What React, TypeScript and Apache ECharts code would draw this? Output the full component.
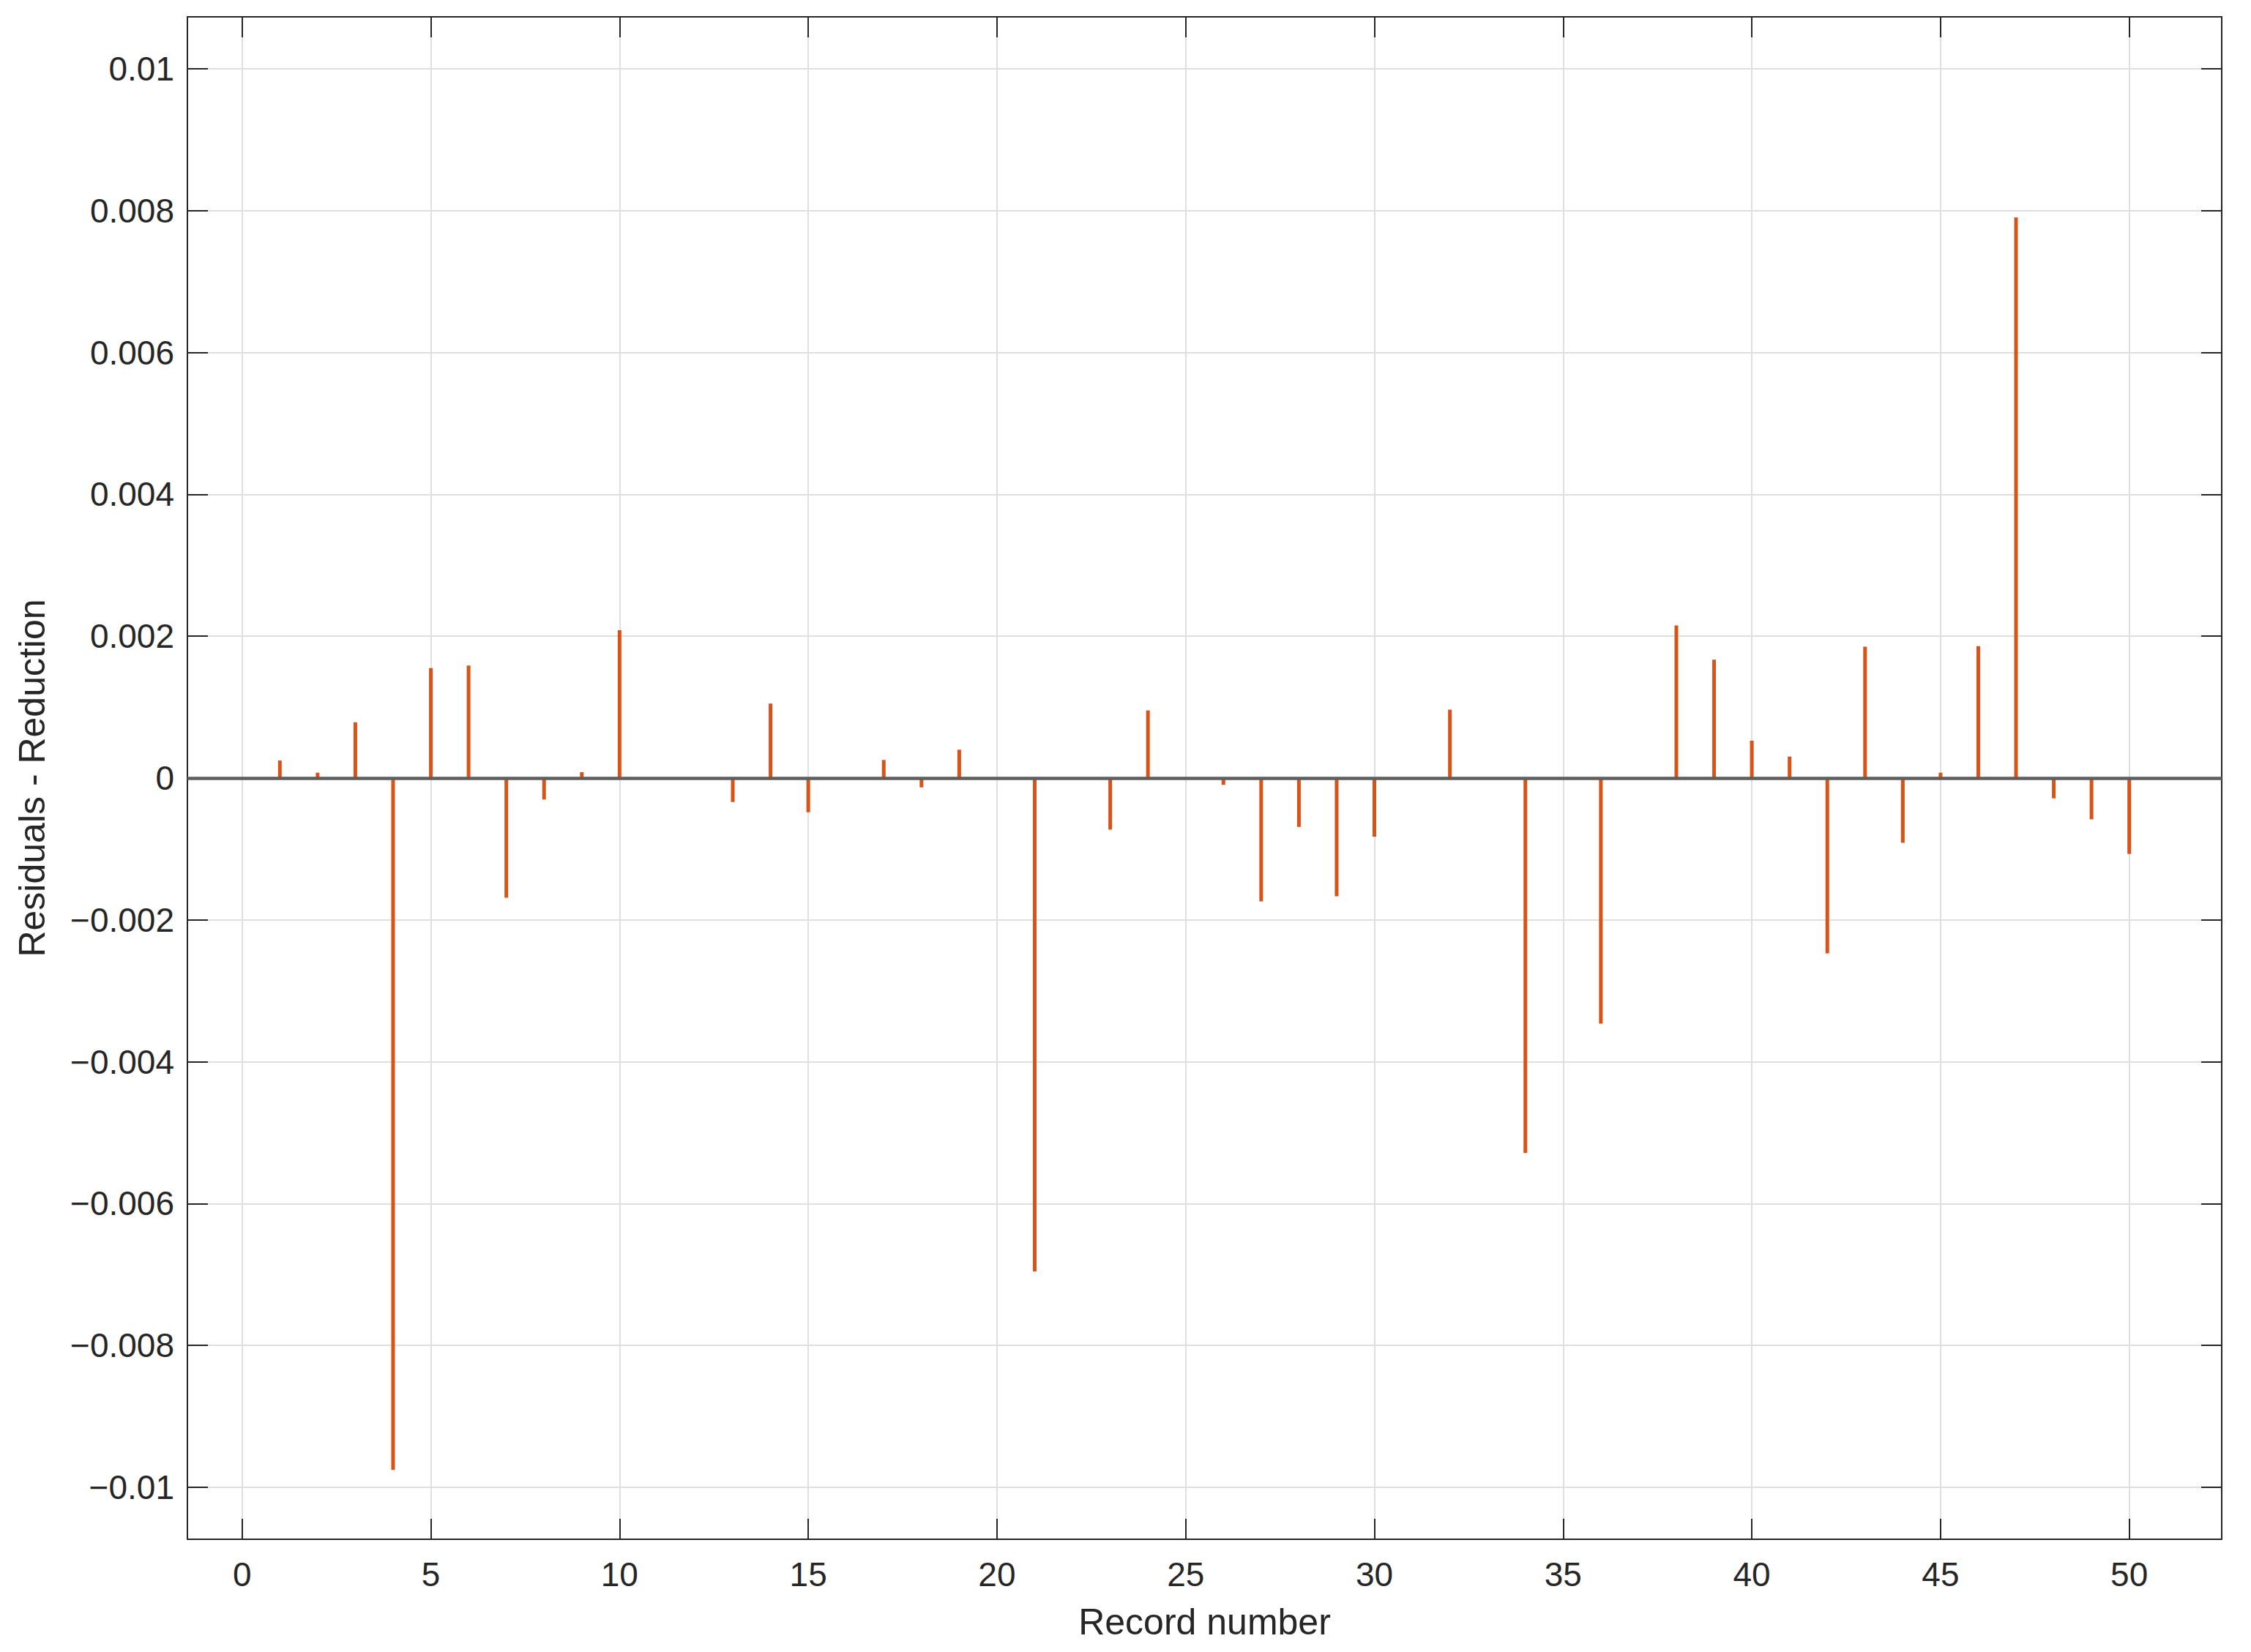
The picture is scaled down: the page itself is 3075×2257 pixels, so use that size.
import React, { useEffect, useRef } from 'react';
import * as echarts from 'echarts';

const recordNumbers = [
  1, 2, 3, 4, 5, 6, 7, 8, 9, 10,
  13, 14, 15, 17, 18, 19, 21, 23, 24, 26,
  27, 28, 29, 30, 32, 34, 36, 38, 39, 40,
  41, 42, 43, 44, 45, 46, 47, 48, 49, 50,
];
const residuals = [
  0.000248, 0.000076, 0.000786, -0.009757, 0.00155, 0.001588, -0.001688, -0.000303, 0.000083, 0.002084,
  -0.000338, 0.001051, -0.000482, 0.000255, -0.000131, 0.0004, -0.006956, -0.000727, 0.000954, -0.0000965,
  -0.00174, -0.000689, -0.001667, -0.000827, 0.000965, -0.005287, -0.003462, 0.002153, 0.00167, 0.000527,
  0.000303, -0.002471, 0.001854, -0.000913, 0.000076, 0.00186, 0.007906, -0.000286, -0.000582, -0.00107,
];
const xTickValues = [0, 5, 10, 15, 20, 25, 30, 35, 40, 45, 50];
const yTickValues = [-0.01, -0.008, -0.006, -0.004, -0.002, 0, 0.002, 0.004, 0.006, 0.008, 0.01];
const xRange = [-1.45, 52.45];
const yRange = [-0.010735, 0.010735];
const xTitle = 'Record number';
const yTitle = 'Residuals - Reduction';

const FONT = 'Liberation Sans, Arial, sans-serif';
const AXIS = '#262626';

const isTick = (v: number, ticks: number[]) => ticks.some((t) => Math.abs(t - v) < 1e-9);
const fmtY = (v: number) => {
  if (!isTick(v, yTickValues)) return '';
  const s = String(Number(v.toFixed(3)));
  return s.replace('-', '\u2212');
};
const fmtX = (v: number) => (isTick(v, xTickValues) ? String(Math.round(v)) : '');

export default function App() {
  const ref = useRef<HTMLDivElement>(null);
  useEffect(() => {
    if (!ref.current) return;
    const chart = echarts.init(ref.current, undefined, { renderer: 'svg' });
    const commonX = {
      type: 'value',
      min: xRange[0],
      max: xRange[1],
      splitNumber: 10,
      axisLine: { show: true, onZero: false, lineStyle: { color: AXIS, width: 2 } },
      axisTick: { show: true, inside: true, length: 28, lineStyle: { color: AXIS, width: 2 } },
    };
    const commonY = {
      type: 'value',
      min: yRange[0],
      max: yRange[1],
      splitNumber: 10,
      axisLine: { show: true, onZero: false, lineStyle: { color: AXIS, width: 2 } },
      axisTick: { show: true, inside: true, length: 28, lineStyle: { color: AXIS, width: 2 } },
    };
    chart.setOption({
      animation: false,
      backgroundColor: '#ffffff',
      grid: { left: 256, right: 40, top: 23, bottom: 154, containLabel: false },
      xAxis: [
        {
          ...commonX,
          position: 'bottom',
          name: xTitle,
          nameLocation: 'middle',
          nameGap: 88,
          nameTextStyle: { fontFamily: FONT, fontSize: 50, color: AXIS, lineHeight: 50 },
          axisLabel: {
            show: true,
            formatter: fmtX,
            margin: 25,
            fontFamily: FONT,
            fontSize: 46,
            lineHeight: 46,
            color: AXIS,
            showMinLabel: true,
            showMaxLabel: true,
            hideOverlap: false,
          },
          splitLine: { show: true, lineStyle: { color: '#dfdfdf', width: 2 } },
        },
        {
          ...commonX,
          position: 'top',
          axisLabel: { show: false },
          splitLine: { show: false },
        },
      ],
      yAxis: [
        {
          ...commonY,
          position: 'left',
          name: yTitle,
          nameLocation: 'middle',
          nameGap: 187,
          nameRotate: 90,
          nameTextStyle: { fontFamily: FONT, fontSize: 50, color: AXIS, lineHeight: 50 },
          axisLabel: {
            show: true,
            formatter: fmtY,
            margin: 18,
            fontFamily: FONT,
            fontSize: 46,
            lineHeight: 46,
            color: AXIS,
            showMinLabel: true,
            showMaxLabel: true,
            hideOverlap: false,
          },
          splitLine: { show: true, lineStyle: { color: '#dfdfdf', width: 2 } },
        },
        {
          ...commonY,
          position: 'right',
          axisLabel: { show: false },
          splitLine: { show: false },
        },
      ],
      series: [
        {
          type: 'bar',
          xAxisIndex: 0,
          yAxisIndex: 0,
          barWidth: 5,
          itemStyle: { color: '#D95319' },
          data: recordNumbers.map((r, i) => [r, residuals[i]]),
          markLine: {
            silent: true,
            symbol: ['none', 'none'],
            label: { show: false },
            lineStyle: { color: '#5e5e5e', width: 4.5, type: 'solid' },
            emphasis: { disabled: true },
            data: [{ yAxis: 0 }],
          },
        },
      ],
    });
    return () => chart.dispose();
  }, []);
  return (
    <div
      ref={ref}
      style={{ position: 'absolute', left: 0, top: 0, width: 3075, height: 2257 }}
    />
  );
}
